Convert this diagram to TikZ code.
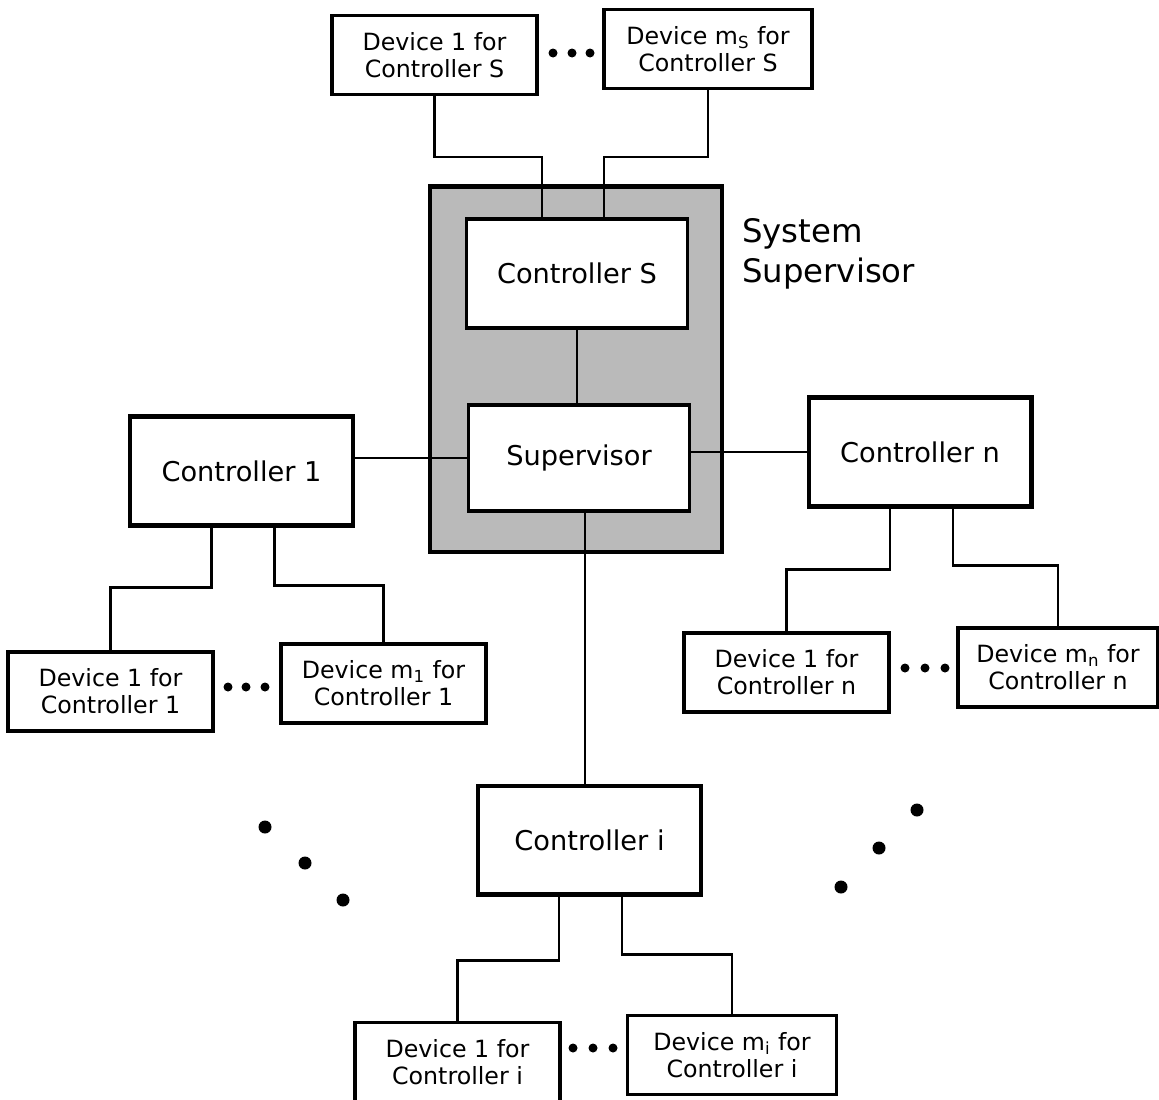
\documentclass[tikz,border=0pt]{standalone}
\usepackage{fontspec}
\setmainfont{DejaVu Sans}
\usepackage{tikz}
\tikzstyle{ctrl} = [rectangle, draw, line width=2.3pt, fill=white, minimum width=4.46cm, minimum height=2.18cm, font=\fontsize{15.5}{18}\selectfont]
\tikzstyle{inner} = [rectangle, draw, line width=1.8pt, fill=white, minimum width=4.42cm, minimum height=2.18cm, font=\fontsize{15.5}{18}\selectfont]
\tikzstyle{device} = [rectangle, draw, line width=1.8pt, fill=white, minimum width=4.1cm, minimum height=1.58cm, align=center, font=\fontsize{13.5}{15.5}\selectfont]
\tikzstyle{sysbox} = [rectangle, draw, line width=2.8pt, fill=black!27, minimum width=5.84cm, minimum height=7.32cm]
\tikzstyle{link} = [line width=1.5pt]

\begin{document}
\begin{tikzpicture}[x=0.02cm, y=-0.02cm]
        \useasboundingbox (0,0) rectangle (1159,1099);

        % system supervisor
        \node[sysbox] (sys) at (576,369) {};
        \node[inner] (cs) at (577,273.5) {Controller S};
        \node[inner, minimum height=2.12cm] (sup) at (579,458) {Supervisor};
        \node[anchor=north west, align=left, font=\fontsize{18.4}{22.7}\selectfont] (syslabel) at (736,212) {System\\Supervisor};

        % controllers
        \node[ctrl] (c1) at (241.5,471) {Controller 1};
        \node[ctrl] (cn) at (920,452) {Controller n};
        \node[ctrl] (ci) at (589.5,840) {Controller i};

        % devices
        \node[device] (ds1) at (434.5,55) {Device 1 for\\Controller S};
        \node[device, minimum width=4.16cm] (dsm) at (708,49) {Device m\textsubscript{S} for\\Controller S};
        \node[device] (d11) at (110.5,691.5) {Device 1 for\\Controller 1};
        \node[device] (d1m) at (383.5,683.5) {Device m\textsubscript{1} for\\Controller 1};
        \node[device] (dn1) at (786.5,672.5) {Device 1 for\\Controller n};
        \node[device, minimum width=4cm] (dnm) at (1058,667.5) {Device m\textsubscript{n} for\\Controller n};
        \node[device] (di1) at (457.5,1062) {Device 1 for\\Controller i};
        \node[device, minimum width=4.18cm] (dim) at (732,1055) {Device m\textsubscript{i} for\\Controller i};

        % links
        \draw[link] (cs.south) -- (cs.south |- sup.north);
        \draw[link] (sup.west) -- (sup.west -| c1.east);
        \draw[link] (cn.west) -- (cn.west -| sup.east);
        \draw[link] ([xshift=0.12cm]sup.south) -- ([xshift=0.12cm]sup.south |- ci.north);
        \draw[link] (ds1.south) -- ++(0,-1.22cm) -| ([xshift=-0.7cm]cs.north);
        \draw[link] (dsm.south) -- ++(0,-1.34cm) -| ([xshift=0.54cm]cs.north);
        \draw[link] ([xshift=-0.6cm]c1.south) -- ++(0,-1.2cm) -| (d11.north);
        \draw[link] ([xshift=0.66cm]c1.south) -- ++(0,-1.16cm) -| (d1m.north);
        \draw[link] ([xshift=-0.6cm]cn.south) -- ++(0,-1.22cm) -| (dn1.north);
        \draw[link] ([xshift=0.66cm]cn.south) -- ++(0,-1.14cm) -| (dnm.north);
        \draw[link] ([xshift=-0.61cm]ci.south) -- ++(0,-1.28cm) -| (di1.north);
        \draw[link] ([xshift=0.65cm]ci.south) -- ++(0,-1.16cm) -| (dim.north);

        % dots
        \fill (553,53) circle (0.09cm) (572,53) circle (0.09cm) (590,53) circle (0.09cm);
        \fill (228,687) circle (0.09cm) (246,687) circle (0.09cm) (265,687) circle (0.09cm);
        \fill (905,668) circle (0.09cm) (925,668) circle (0.09cm) (945,668) circle (0.09cm);
        \fill (573,1048) circle (0.09cm) (593,1048) circle (0.09cm) (613,1048) circle (0.09cm);
        \fill (265,827) circle (0.13cm) (305,863) circle (0.13cm) (343,900) circle (0.13cm);
        \fill (917,810) circle (0.13cm) (879,848) circle (0.13cm) (841,887) circle (0.13cm);
    \end{tikzpicture}
\end{document}
